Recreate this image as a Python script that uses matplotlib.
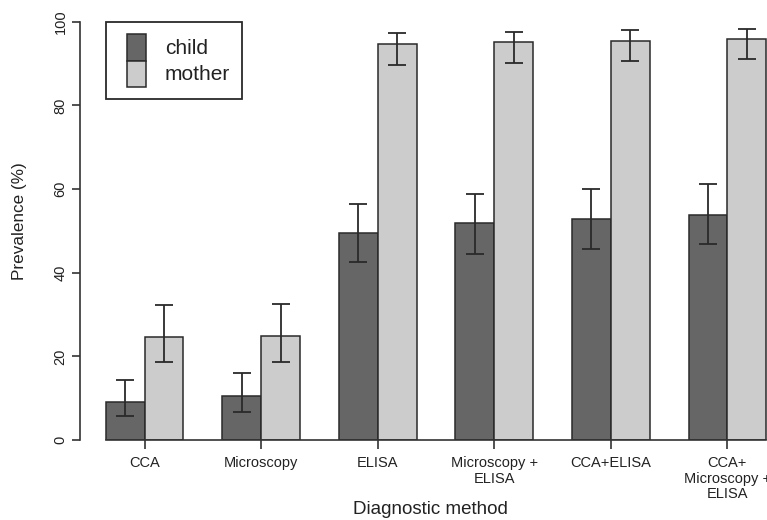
import numpy as np
import matplotlib
matplotlib.use("Agg")
import matplotlib.pyplot as plt
from matplotlib.patches import Rectangle

plt.rcParams['font.family'] = ['Liberation Sans', 'DejaVu Sans']

# values (percent)
categories = ["CCA", "Microscopy", "ELISA", "Microscopy +\nELISA", "CCA+ELISA",
              "CCA+\nMicroscopy +\nELISA"]
child = [9.2, 10.5, 49.4, 51.8, 52.9, 53.8]
child_lo = [5.7, 6.8, 42.5, 44.5, 45.7, 46.9]
child_hi = [14.3, 15.9, 56.4, 58.8, 59.9, 61.1]
mother = [24.6, 24.9, 94.6, 95.1, 95.4, 95.9]
mother_lo = [18.6, 18.6, 89.6, 90.2, 90.5, 91.0]
mother_hi = [32.2, 32.6, 97.4, 97.6, 97.9, 98.2]
series = ["child", "mother"]

W, H = 767, 520
CHILD_C = "#666666"
MOTHER_C = "#cccccc"
EDGE = "#2a2a2a"
TXT = "#222222"


def fx(px):
    return px / W


def fy(py):
    return 1 - py / H


fig = plt.figure(figsize=(W / 100, H / 100), dpi=100)
ax = fig.add_axes([fx(80), fy(440), (W - 80) / W, (440 - 21.7) / H])

# R style barplot(beside=TRUE): two bars per group, one bar of space between
g = np.arange(len(categories))
x_child = 1 + 3 * g
x_mother = 2 + 3 * g

ax.bar(x_child, child, width=1, align='edge', color=CHILD_C, edgecolor=EDGE, linewidth=1.1, zorder=2)
ax.bar(x_mother, mother, width=1, align='edge', color=MOTHER_C, edgecolor=EDGE, linewidth=1.1, zorder=2)

child = np.array(child)
mother = np.array(mother)
ax.errorbar(x_child + 0.5, child, yerr=[child - np.array(child_lo), np.array(child_hi) - child],
            fmt='none', ecolor=EDGE, elinewidth=1.3, capsize=6.8, capthick=1.3, zorder=3)
ax.errorbar(x_mother + 0.5, mother, yerr=[mother - np.array(mother_lo), np.array(mother_hi) - mother],
            fmt='none', ecolor=EDGE, elinewidth=1.3, capsize=6.8, capthick=1.3, zorder=3)

ax.set_xlim(0.34, 18.02)
ax.set_ylim(0, 100)

for s in ['top', 'right']:
    ax.spines[s].set_visible(False)
ax.spines['left'].set_bounds(0, 100)
ax.spines['bottom'].set_bounds(1, 18)
for s in ['left', 'bottom']:
    ax.spines[s].set_color("#333333")
    ax.spines[s].set_linewidth(1.2)

ax.set_yticks([0, 20, 40, 60, 80, 100])
ax.set_yticklabels([str(v) for v in [0, 20, 40, 60, 80, 100]], rotation=90, va='center')
ax.set_xticks(x_mother)
ax.set_xticklabels(categories, linespacing=1.15)
ax.tick_params(axis='y', length=6, width=1.2, color="#333333", labelsize=10.5, labelcolor=TXT, pad=3)
ax.tick_params(axis='x', length=6.5, width=1.2, color="#333333", labelsize=10.5, labelcolor=TXT, pad=5)

fig.text(fx(20), fy(221.5), "Prevalence (%)", rotation=90, ha='center', va='center',
         fontsize=12.3, color=TXT)
fig.text(fx(430), fy(510), "Diagnostic method", ha='center', va='center',
         fontsize=13.5, color=TXT)

# legend drawn R style: stacked swatches inside a box
tr = fig.transFigure
fig.patches.append(Rectangle((fx(106), fy(99)), (242 - 106) / W, (99 - 21.7) / H, transform=tr,
                             facecolor='white', edgecolor=EDGE, linewidth=1.3))
fig.patches.append(Rectangle((fx(127), fy(61)), 19 / W, 27.3 / H, transform=tr,
                             facecolor=CHILD_C, edgecolor=EDGE, linewidth=1.1))
fig.patches.append(Rectangle((fx(127), fy(87)), 19 / W, 26 / H, transform=tr,
                             facecolor=MOTHER_C, edgecolor=EDGE, linewidth=1.1))
fig.text(fx(165), fy(49), series[0], ha='left', va='center', fontsize=15, color=TXT)
fig.text(fx(165), fy(75), series[1], ha='left', va='center', fontsize=15, color=TXT)

fig.savefig("out.png", dpi=100)
